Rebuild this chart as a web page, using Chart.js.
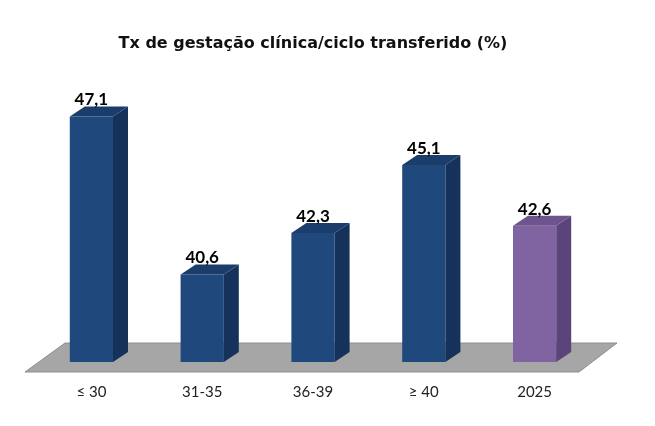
<!DOCTYPE html>
<html>
<head>
<meta charset="utf-8">
<script src="https://cdn.jsdelivr.net/npm/chart.js@4"></script>
<style>
  html, body { margin: 0; padding: 0; background: #fff; }
  #wrap { width: 655px; height: 426px; }
</style>
</head>
<body>
<div id="wrap"><canvas id="grafico" width="655" height="426"></canvas></div>
<script>
// dados do gráfico
const categorias = ['≤ 30', '31-35', '36-39', '≥ 40', '2025'];
const valores = [47.1, 40.6, 42.3, 45.1, 42.6];
const rotulosValores = ['47,1', '40,6', '42,3', '45,1', '42,6'];

// cores: frente, lateral, topo
const corFrente = ['#1F497D', '#1F497D', '#1F497D', '#1F497D', '#8064A2'];
const corLado = ['#16325A', '#16325A', '#16325A', '#16325A', '#5B4479'];
const corTopo = ['#1B3D6B', '#1B3D6B', '#1B3D6B', '#1B3D6B', '#6D548D'];

const PROF_X = 15, PROF_Y = 10;

// chão cinza + faces 3D das barras + rótulos
const efeito3d = {
    id: 'efeito3d',
    beforeDatasetsDraw(chart) {
        const ctx = chart.ctx;
        const a = chart.chartArea;
        ctx.save();
        ctx.beginPath();
        ctx.moveTo(a.left - 11, a.bottom + 10);
        ctx.lineTo(a.right - 11, a.bottom + 10);
        ctx.lineTo(a.right + 27, a.bottom - 19);
        ctx.lineTo(a.left + 29, a.bottom - 19);
        ctx.closePath();
        ctx.fillStyle = '#A6A6A6';
        ctx.fill();
        ctx.strokeStyle = '#8E8E8E';
        ctx.lineWidth = 1;
        ctx.stroke();
        ctx.restore();
    },
    afterDatasetsDraw(chart) {
        const ctx = chart.ctx;
        const meta = chart.getDatasetMeta(0);
        const base = chart.chartArea.bottom;
        ctx.save();
        meta.data.forEach((bar, i) => {
            const w = bar.width;
            const x0 = bar.x - w / 2, x1 = bar.x + w / 2;
            const top = bar.y;
            // lateral
            ctx.beginPath();
            ctx.moveTo(x1, top);
            ctx.lineTo(x1 + PROF_X, top - PROF_Y);
            ctx.lineTo(x1 + PROF_X, base - PROF_Y);
            ctx.lineTo(x1, base);
            ctx.closePath();
            ctx.fillStyle = corLado[i];
            ctx.fill();
            // topo
            ctx.beginPath();
            ctx.moveTo(x0, top);
            ctx.lineTo(x0 + PROF_X, top - PROF_Y);
            ctx.lineTo(x1 + PROF_X, top - PROF_Y);
            ctx.lineTo(x1, top);
            ctx.closePath();
            ctx.fillStyle = corTopo[i];
            ctx.fill();
            // valor
            ctx.fillStyle = '#000';
            ctx.font = 'bold 17px Lato';
            ctx.textAlign = 'center';
            ctx.textBaseline = 'alphabetic';
            ctx.fillText(rotulosValores[i], bar.x, top - 11);
        });
        ctx.restore();
    }
};

new Chart(document.getElementById('grafico'), {
    type: 'bar',
    data: {
        labels: categorias,
        datasets: [{
            data: valores,
            backgroundColor: corFrente,
            borderWidth: 0,
            barPercentage: 0.39,
            categoryPercentage: 1
        }]
    },
    options: {
        responsive: false,
        animation: false,
        layout: { padding: { left: 36, right: 65, top: 0, bottom: 12 } },
        plugins: {
            legend: { display: false },
            tooltip: { enabled: false },
            title: {
                display: true,
                text: 'Tx de gestação clínica/ciclo transferido (%)',
                color: '#111',
                font: { family: 'DejaVu Sans', size: 16, weight: 'bold' },
                padding: { top: 34, bottom: 17 }
            }
        },
        scales: {
            x: {
                grid: { display: false },
                border: { display: false },
                ticks: {
                    color: '#222',
                    padding: 13,
                    font: { family: 'Lato', size: 15 }
                }
            },
            y: {
                display: false,
                min: 37,
                max: 49
            }
        }
    },
    plugins: [efeito3d]
});
</script>
</body>
</html>
